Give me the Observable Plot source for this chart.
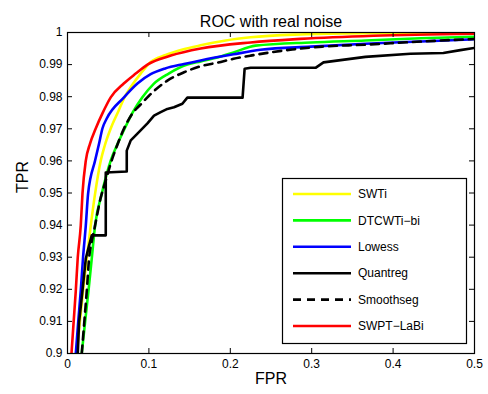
<!DOCTYPE html>
<html>
<head>
<meta charset="utf-8">
<script src="https://cdn.jsdelivr.net/npm/d3@7"></script>
<script src="https://cdn.jsdelivr.net/npm/@observablehq/plot@0.6"></script>
<style>
  html, body { margin: 0; padding: 0; background: #fff; }
  #chart { position: relative; width: 488px; height: 394px; }
</style>
</head>
<body>
<div id="chart"></div>
<script>
// ---- Data ----
const seriesNames = ["SWTi", "DTCWTi\u2212bi", "Lowess", "Quantreg", "Smoothseg", "SWPT\u2212LaBi"];
const seriesColors = ["#ffff00", "#00ff00", "#0000ff", "#000000", "#000000", "#ff0000"];
const seriesDash = [null, null, null, null, "8,6", null];
const seriesCurve = ["monotone-x", "monotone-x", "monotone-x", "linear", "monotone-x", "monotone-x"];

const swtiFPR = [0.0114, 0.0151, 0.0191, 0.0237, 0.0286, 0.0339, 0.0409, 0.0458, 0.0531, 0.0629, 0.0700, 0.0790, 0.0899, 0.1022, 0.1206, 0.1415, 0.1636, 0.1943, 0.225, 0.286, 0.366, 0.5];
const swtiTPR = [0.900, 0.9097, 0.9196, 0.9296, 0.9399, 0.9498, 0.9601, 0.9648, 0.9701, 0.9757, 0.9798, 0.9835, 0.9872, 0.9908, 0.9930, 0.9947, 0.9960, 0.9975, 0.9985, 0.9994, 0.9998, 0.99995];

const dtcFPR = [0.0175, 0.0216, 0.0258, 0.0298, 0.0339, 0.0421, 0.0531, 0.0617, 0.0703, 0.0801, 0.092, 0.1059, 0.1243, 0.1472, 0.1636, 0.184, 0.204, 0.231, 0.299, 0.366, 0.434, 0.5];
const dtcTPR = [0.900, 0.9098, 0.9196, 0.9296, 0.9399, 0.9498, 0.9601, 0.9654, 0.9701, 0.9751, 0.9798, 0.9840, 0.9872, 0.9900, 0.9910, 0.9922, 0.9938, 0.9959, 0.9969, 0.9975, 0.9982, 0.9987];

const lowessFPR = [0.0102, 0.013, 0.0163, 0.0191, 0.0225, 0.0253, 0.0339, 0.0388, 0.0429, 0.0482, 0.0694, 0.0859, 0.1022, 0.1200, 0.1431, 0.1636, 0.204, 0.237, 0.299, 0.366, 0.434, 0.5];
const lowessTPR = [0.900, 0.9093, 0.9196, 0.9299, 0.9399, 0.9498, 0.9601, 0.9654, 0.9701, 0.9732, 0.9798, 0.9841, 0.9870, 0.9888, 0.9902, 0.9913, 0.9932, 0.9946, 0.9956, 0.9965, 0.9972, 0.9979];

const quantFPR = [0.0126, 0.0142, 0.0184, 0.0225, 0.0265, 0.0298, 0.047, 0.047, 0.0728, 0.0728, 0.0777, 0.0859, 0.0982, 0.1063, 0.1145, 0.1227, 0.1308, 0.1411, 0.1472, 0.2151, 0.2176, 0.225, 0.3047, 0.3145, 0.366, 0.4212, 0.4617, 0.4826, 0.5];
const quantTPR = [0.900, 0.9097, 0.9196, 0.9296, 0.9336, 0.9368, 0.9368, 0.9564, 0.9567, 0.9632, 0.9664, 0.9685, 0.9717, 0.9741, 0.9752, 0.9762, 0.9767, 0.9778, 0.9797, 0.9797, 0.9887, 0.9890, 0.9890, 0.9907, 0.9924, 0.9934, 0.9936, 0.9945, 0.9952];

const smoothFPR = [0.0175, 0.0206, 0.0237, 0.0265, 0.0298, 0.0326, 0.0409, 0.047, 0.0531, 0.0605, 0.0694, 0.0798, 0.09, 0.1001, 0.1227, 0.1431, 0.1636, 0.184, 0.204, 0.225, 0.276, 0.313, 0.366, 0.4212, 0.5];
const smoothTPR = [0.900, 0.9097, 0.9196, 0.9296, 0.9349, 0.9383, 0.9486, 0.9539, 0.9592, 0.9645, 0.9701, 0.9748, 0.9776, 0.9803, 0.9850, 0.9876, 0.9895, 0.9906, 0.9918, 0.9928, 0.9947, 0.9956, 0.9962, 0.9970, 0.9980];

const swptFPR = [0.0049, 0.0074, 0.0102, 0.0126, 0.0163, 0.0184, 0.0225, 0.0277, 0.0347, 0.0429, 0.0531, 0.0691, 0.0838, 0.0982, 0.127, 0.1636, 0.225, 0.286, 0.376, 0.5];
const swptTPR = [0.900, 0.9093, 0.9196, 0.9299, 0.9399, 0.9498, 0.9601, 0.9654, 0.9701, 0.9748, 0.9798, 0.9841, 0.9872, 0.9900, 0.9928, 0.9950, 0.9969, 0.9980, 0.9990, 0.9996];

const xTicks = [0, 0.1, 0.2, 0.3, 0.4, 0.5];
const yTicks = [0.9, 0.91, 0.92, 0.93, 0.94, 0.95, 0.96, 0.97, 0.98, 0.99, 1];

const titleText = "ROC with real noise";
const xLabel = "FPR";
const yLabel = "TPR";

// ---- Build tidy tables ----
const seriesFPR = [swtiFPR, dtcFPR, lowessFPR, quantFPR, smoothFPR, swptFPR];
const seriesTPR = [swtiTPR, dtcTPR, lowessTPR, quantTPR, smoothTPR, swptTPR];
const tables = seriesNames.map((name, i) =>
  seriesFPR[i].map((f, j) => ({series: name, fpr: f, tpr: seriesTPR[i][j]}))
);

// ---- Layout ----
const W = 488, H = 394;
const mL = 67, mR = 14, mT = 32, mB = 41;
const innerW = W - mL - mR, innerH = H - mT - mB;
const tickLen = 5;
const font = "Liberation Sans, Arial, Helvetica, sans-serif";

const lineMarks = tables.map((rows, i) =>
  Plot.line(rows, {
    x: "fpr", y: "tpr",
    stroke: seriesColors[i],
    strokeWidth: 2.6,
    strokeDasharray: seriesDash[i],
    strokeLinejoin: "round",
    curve: seriesCurve[i],
    clip: true
  })
);

const fmt = d => String(+d.toFixed(2));

const plot = Plot.plot({
  width: W, height: H,
  marginLeft: mL, marginRight: mR, marginTop: mT, marginBottom: mB,
  style: {fontFamily: font, background: "#fff", color: "#000"},
  x: {domain: [0, 0.5], axis: null, label: null},
  y: {domain: [0.9, 1], axis: null, label: null},
  marks: [
    ...lineMarks,
    // inward ticks on all four sides
    Plot.tickX(xTicks, {x: d => d, insetTop: innerH - tickLen, stroke: "#000", strokeWidth: 1}),
    Plot.tickX(xTicks, {x: d => d, insetBottom: innerH - tickLen, stroke: "#000", strokeWidth: 1}),
    Plot.tickY(yTicks, {y: d => d, insetRight: innerW - tickLen, stroke: "#000", strokeWidth: 1}),
    Plot.tickY(yTicks, {y: d => d, insetLeft: innerW - tickLen, stroke: "#000", strokeWidth: 1}),
    Plot.axisX({ticks: xTicks, tickSize: 0, tickPadding: 6, tickFormat: fmt, fontSize: 12, anchor: "bottom", label: null}),
    Plot.axisY({ticks: yTicks, tickSize: 0, tickPadding: 5, tickFormat: fmt, fontSize: 12, anchor: "left", label: null}),
    Plot.frame({stroke: "#000", strokeWidth: 1.2}),
    Plot.text([titleText], {frameAnchor: "top", dy: -17, fontSize: 16, fill: "#000"}),
    Plot.text([xLabel], {frameAnchor: "bottom", dy: 30, fontSize: 16, fill: "#000"}),
    Plot.text([yLabel], {frameAnchor: "left", dx: -45, rotate: -90, fontSize: 16, fill: "#000"})
  ]
});

document.getElementById("chart").appendChild(plot);

// ---- Legend (boxed, inside the axes, like MATLAB's) ----
const svg = d3.select(plot);
const lgX = 282, lgY = 178, lgW = 184, lgH = 165;
const rowH = 26.4, firstRow = 16;
const lg = svg.append("g").attr("class", "legend").attr("text-anchor", "start");
lg.append("rect")
  .attr("x", lgX + 0.5).attr("y", lgY + 0.5)
  .attr("width", lgW).attr("height", lgH)
  .attr("fill", "#fff").attr("stroke", "#000").attr("stroke-width", 1.2);
seriesNames.forEach((name, i) => {
  const cy = lgY + firstRow + i * rowH;
  lg.append("line")
    .attr("x1", lgX + 11).attr("x2", lgX + 69)
    .attr("y1", cy).attr("y2", cy)
    .attr("stroke", seriesColors[i]).attr("stroke-width", 2.6)
    .attr("stroke-dasharray", seriesDash[i]);
  lg.append("text")
    .attr("x", lgX + 76).attr("y", cy)
    .attr("dy", "0.35em")
    .attr("text-anchor", "start")
    .attr("font-size", 12).attr("font-family", font)
    .attr("fill", "#000")
    .text(name);
});
</script>
</body>
</html>
